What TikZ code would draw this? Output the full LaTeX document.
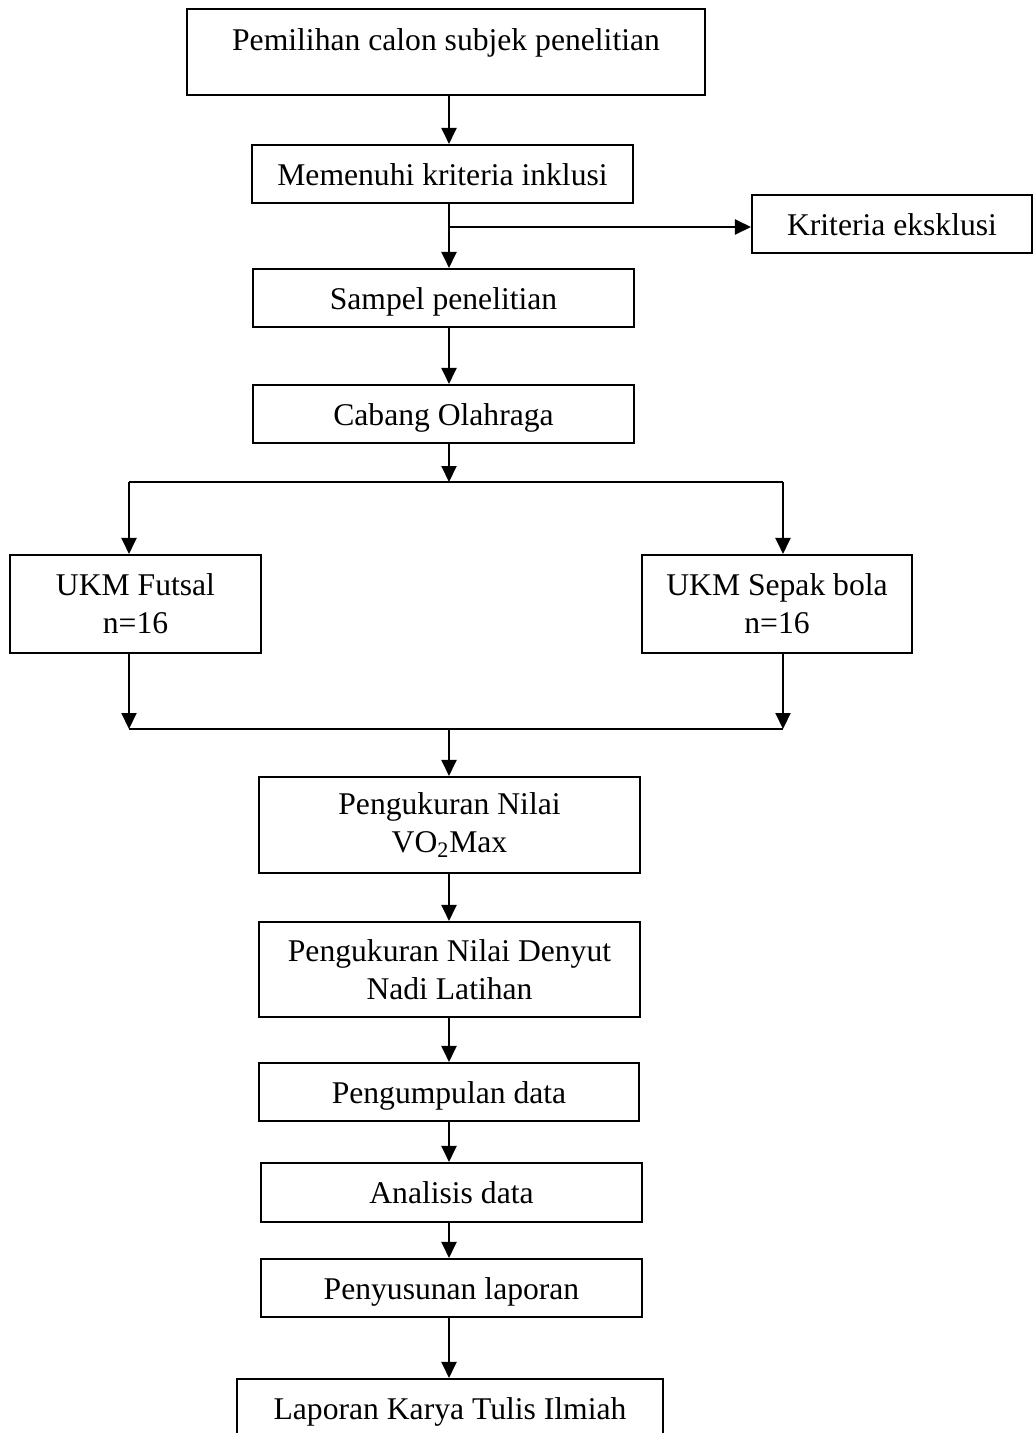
\documentclass[tikz,border=0pt]{standalone}
\usepackage{fontspec}
\setmainfont{Liberation Serif}
\usetikzlibrary{arrows.meta}
\tikzset{
  box/.style={draw, line width=1.2pt, inner sep=0pt, align=center, font=\fontsize{18}{21.6}\selectfont},
  one/.style={text height=12.6pt, text depth=0pt},
  txt/.style={inner sep=0pt, font=\fontsize{18}{21.6}\selectfont, text height=12.6pt, text depth=0pt},
  arr/.style={line width=1.2pt, -{Triangle[length=0.32cm,width=0.3cm]}},
  ln/.style={line width=1.2pt}
}
\begin{document}
\begin{tikzpicture}[x=0.02cm,y=-0.02cm]
\clip (0,0) rectangle (1035,1433);
\node[box, minimum width=10.36cm, minimum height=1.72cm] (p1) at (446,52) {};
\node[txt] (p1t) at (446,39) {Pemilihan calon subjek penelitian};
\node[box, one, minimum width=7.62cm, minimum height=1.16cm] (p2) at (442.5,174) {Memenuhi kriteria inklusi};
\node[box, one, minimum width=5.6cm, minimum height=1.16cm] (ex) at (892,224) {Kriteria eksklusi};
\node[box, one, minimum width=7.62cm, minimum height=1.16cm] (p3) at (443.5,298) {Sampel penelitian};
\node[box, one, minimum width=7.62cm, minimum height=1.16cm] (p4) at (443.5,414) {Cabang Olahraga};
\node[box, minimum width=5.02cm, minimum height=1.96cm] (fut) at (135.5,604) {UKM Futsal\\n=16};
\node[box, minimum width=5.4cm, minimum height=1.96cm] (sep) at (777,604) {UKM Sepak bola\\n=16};
\node[box, minimum width=7.62cm, minimum height=1.92cm] (vo) at (449.5,825) {Pengukuran Nilai\\VO\textsubscript{2}Max};
\node[box, minimum width=7.62cm, minimum height=1.9cm] (dn) at (449.5,969.5) {Pengukuran Nilai Denyut\\Nadi Latihan};
\node[box, one, minimum width=7.6cm, minimum height=1.16cm] (pg) at (449,1092) {Pengumpulan data};
\node[box, one, minimum width=7.62cm, minimum height=1.18cm] (an) at (451.5,1192.5) {Analisis data};
\node[box, one, minimum width=7.62cm, minimum height=1.16cm] (py) at (451.5,1288) {Penyusunan laporan};
\node[box, one, minimum width=8.52cm, minimum height=1.16cm] (lp) at (450,1408) {Laporan Karya Tulis Ilmiah};
\coordinate (sx) at (449,0);
\coordinate (br) at (449,227);
\coordinate (sl) at (129,482);
\coordinate (sr) at (783,482);
\coordinate (sm) at (449,482);
\coordinate (ml) at (129,729);
\coordinate (mr) at (783,729);
\coordinate (mm) at (449,729);
\draw[arr] (p1.south -| sx) -- (p2.north -| sx);
\draw[arr] (p2.south -| sx) -- (p3.north -| sx);
\draw[arr] (br) -- (ex.west |- br);
\draw[arr] (p3.south -| sx) -- (p4.north -| sx);
\draw[arr] (p4.south -| sx) -- (sm);
\draw[ln] (sl) -- (sr);
\draw[arr] (sl) -- (fut.north -| sl);
\draw[arr] (sr) -- (sep.north -| sr);
\draw[arr] (fut.south -| ml) -- (ml);
\draw[arr] (sep.south -| mr) -- (mr);
\draw[ln] (ml) -- (mr);
\draw[arr] (mm) -- (vo.north -| mm);
\draw[arr] (vo.south -| sx) -- (dn.north -| sx);
\draw[arr] (dn.south -| sx) -- (pg.north -| sx);
\draw[arr] (pg.south -| sx) -- (an.north -| sx);
\draw[arr] (an.south -| sx) -- (py.north -| sx);
\draw[arr] (py.south -| sx) -- (lp.north -| sx);
\end{tikzpicture}
\end{document}
